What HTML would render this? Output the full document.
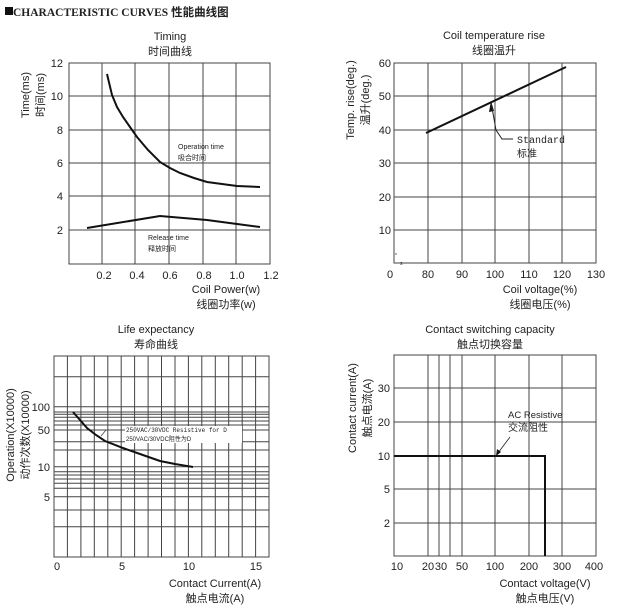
<!DOCTYPE html>
<html><head><meta charset="utf-8"><style>
body{margin:0;background:#fff}
svg text{font-family:"Liberation Sans","Noto Sans CJK SC",sans-serif;fill:#222}
.g line,.g rect{stroke:#444;stroke-width:1;fill:none}
.s{font-family:"Liberation Serif","Noto Sans CJK SC",serif;font-size:11px}
</style></head><body>
<svg width="621" height="608" xmlns="http://www.w3.org/2000/svg">
<rect x="5" y="7" width="8" height="8" fill="#111"/>
<text x="13" y="16" style="font-family:'Liberation Serif','Noto Sans CJK SC',serif;font-weight:bold;font-size:11.5px">CHARACTERISTIC CURVES 性能曲线图</text>

<!-- Chart 1 -->
<g class="g">
<rect x="69" y="63" width="201" height="201"/>
<line x1="102" y1="63" x2="102" y2="264"/><line x1="135" y1="63" x2="135" y2="264"/><line x1="169" y1="63" x2="169" y2="264"/><line x1="203" y1="63" x2="203" y2="264"/><line x1="236" y1="63" x2="236" y2="264"/>
<line x1="69" y1="96" x2="270" y2="96"/><line x1="69" y1="130" x2="270" y2="130"/><line x1="69" y1="163" x2="270" y2="163"/><line x1="69" y1="196" x2="270" y2="196"/><line x1="69" y1="230" x2="270" y2="230"/>
</g>
<polyline points="107,74 112,95 117,107 123,117 130,127 137,137 148,150 160,162 170,168 180,173 194,178 207,182 222,184 237,186 260,187" fill="none" stroke="#111" stroke-width="2"/>
<polyline points="87,228 160,216 207,220 237,224 260,227" fill="none" stroke="#111" stroke-width="2"/>
<text x="170" y="40" font-size="11" text-anchor="middle">Timing</text>
<text x="170" y="55" font-size="11" text-anchor="middle">时间曲线</text>
<g font-size="11" text-anchor="end" class="s"><text x="63" y="67">12</text><text x="63" y="100">10</text><text x="63" y="134">8</text><text x="63" y="167">6</text><text x="63" y="200">4</text><text x="63" y="234">2</text></g>
<g class="s" text-anchor="middle"><text x="104" y="279">0.2</text><text x="137" y="279">0.4</text><text x="170" y="279">0.6</text><text x="204" y="279">0.8</text><text x="237" y="279">1.0</text><text x="271" y="279">1.2</text></g>
<text x="178" y="149" font-size="7">Operation time</text><text x="178" y="160" font-size="7">吸合时间</text>
<text x="148" y="240" font-size="7">Release time</text><text x="148" y="251" font-size="7">释放时间</text>
<text x="226" y="293" font-size="11" text-anchor="middle">Coil Power(w)</text>
<text x="226" y="308" font-size="11" text-anchor="middle">线圈功率(w)</text>
<text transform="translate(29,95) rotate(-90)" font-size="11" text-anchor="middle">Time(ms)</text>
<text transform="translate(44,95) rotate(-90)" font-size="11" text-anchor="middle">时间(ms)</text>

<!-- Chart 2 -->
<g class="g">
<rect x="394" y="63" width="202" height="200"/>
<line x1="428" y1="63" x2="428" y2="263"/><line x1="462" y1="63" x2="462" y2="263"/><line x1="495" y1="63" x2="495" y2="263"/><line x1="529" y1="63" x2="529" y2="263"/><line x1="562" y1="63" x2="562" y2="263"/>
<line x1="394" y1="96" x2="596" y2="96"/><line x1="394" y1="130" x2="596" y2="130"/><line x1="394" y1="163" x2="596" y2="163"/><line x1="394" y1="197" x2="596" y2="197"/><line x1="394" y1="230" x2="596" y2="230"/>
</g>
<line x1="426" y1="133" x2="566" y2="67" stroke="#111" stroke-width="2"/>
<polygon points="491,101 489,112 494,111" fill="#111"/>
<polyline points="491,102 496,130 502,139 513,139" fill="none" stroke="#222" stroke-width="1"/>
<text x="517" y="143" font-size="10" style="font-family:'Liberation Mono',monospace">Standard</text>
<text x="517" y="157" font-size="10">标准</text>
<text x="395" y="257" font-size="5">*</text><text x="400" y="265" font-size="5">s</text>
<text x="494" y="39" font-size="11" text-anchor="middle">Coil temperature rise</text>
<text x="494" y="54" font-size="11" text-anchor="middle">线圈温升</text>
<g class="s" text-anchor="end"><text x="391" y="67">60</text><text x="391" y="100">50</text><text x="391" y="134">40</text><text x="391" y="167">30</text><text x="391" y="201">20</text><text x="391" y="234">10</text></g>
<g class="s" text-anchor="middle"><text x="390" y="278">0</text><text x="428" y="278">80</text><text x="462" y="278">90</text><text x="495" y="278">100</text><text x="529" y="278">110</text><text x="562" y="278">120</text><text x="596" y="278">130</text></g>
<text x="540" y="293" font-size="11" text-anchor="middle">Coil voltage(%)</text>
<text x="540" y="308" font-size="11" text-anchor="middle">线圈电压(%)</text>
<text transform="translate(354,100) rotate(-90)" font-size="11" text-anchor="middle">Temp. rise(deg.)</text>
<text transform="translate(369,100) rotate(-90)" font-size="11" text-anchor="middle">温升(deg.)</text>

<!-- Chart 3 -->
<g class="g">
<rect x="54" y="356" width="215" height="201"/>
<line x1="67.4" y1="356" x2="67.4" y2="557"/><line x1="80.9" y1="356" x2="80.9" y2="557"/><line x1="94.3" y1="356" x2="94.3" y2="557"/><line x1="107.8" y1="356" x2="107.8" y2="557"/><line x1="121.2" y1="356" x2="121.2" y2="557"/><line x1="134.6" y1="356" x2="134.6" y2="557"/><line x1="148.1" y1="356" x2="148.1" y2="557"/><line x1="161.5" y1="356" x2="161.5" y2="557"/><line x1="175" y1="356" x2="175" y2="557"/><line x1="188.4" y1="356" x2="188.4" y2="557"/><line x1="201.8" y1="356" x2="201.8" y2="557"/><line x1="215.3" y1="356" x2="215.3" y2="557"/><line x1="228.7" y1="356" x2="228.7" y2="557"/><line x1="242.2" y1="356" x2="242.2" y2="557"/><line x1="255.6" y1="356" x2="255.6" y2="557"/>
<line x1="54" y1="376.7" x2="269" y2="376.7"/><line x1="54" y1="406.7" x2="269" y2="406.7"/><line x1="54" y1="412" x2="269" y2="412"/><line x1="54" y1="414.3" x2="269" y2="414.3"/><line x1="54" y1="417.3" x2="269" y2="417.3"/><line x1="54" y1="421" x2="269" y2="421"/><line x1="54" y1="425" x2="269" y2="425"/><line x1="54" y1="430" x2="269" y2="430"/><line x1="54" y1="441.7" x2="269" y2="441.7"/><line x1="54" y1="450" x2="269" y2="450"/><line x1="54" y1="466.7" x2="269" y2="466.7"/><line x1="54" y1="471.7" x2="269" y2="471.7"/><line x1="54" y1="475" x2="269" y2="475"/><line x1="54" y1="479" x2="269" y2="479"/><line x1="54" y1="483.3" x2="269" y2="483.3"/><line x1="54" y1="488.3" x2="269" y2="488.3"/><line x1="54" y1="496.7" x2="269" y2="496.7"/><line x1="54" y1="510" x2="269" y2="510"/><line x1="54" y1="526.7" x2="269" y2="526.7"/>
</g>
<rect x="125" y="426" width="117" height="17" fill="#fff"/>
<polyline points="73,412 80,420 87,428 96,435 105,441 123,448 140,454 160,461 175,464 193,467" fill="none" stroke="#111" stroke-width="2"/>
<polyline points="101,436 106,430 124,430" fill="none" stroke="#444" stroke-width="0.8"/>
<text x="126" y="432" font-size="6" style="font-family:'Liberation Mono',monospace">250VAC/30VDC Resistive for D</text>
<text x="126" y="441" font-size="6">250VAC/30VDC阻性为D</text>
<text x="156" y="333" font-size="11" text-anchor="middle">Life expectancy</text>
<text x="156" y="348" font-size="11" text-anchor="middle">寿命曲线</text>
<g class="s" text-anchor="end"><text x="50" y="411">100</text><text x="50" y="434">50</text><text x="50" y="471">10</text><text x="50" y="501">5</text></g>
<g class="s" text-anchor="middle"><text x="57" y="570">0</text><text x="122" y="570">5</text><text x="189" y="570">10</text><text x="256" y="570">15</text></g>
<text x="215" y="587" font-size="11" text-anchor="middle">Contact Current(A)</text>
<text x="215" y="602" font-size="11" text-anchor="middle">触点电流(A)</text>
<text transform="translate(14,435) rotate(-90)" font-size="11" text-anchor="middle">Operation(X10000)</text>
<text transform="translate(29,435) rotate(-90)" font-size="11" text-anchor="middle">动作次数(X10000)</text>

<!-- Chart 4 -->
<g class="g">
<rect x="394" y="355" width="202" height="201"/>
<line x1="428" y1="355" x2="428" y2="556"/><line x1="439" y1="355" x2="439" y2="556"/><line x1="450" y1="355" x2="450" y2="556"/><line x1="462" y1="355" x2="462" y2="556"/><line x1="495" y1="355" x2="495" y2="556"/><line x1="529" y1="355" x2="529" y2="556"/><line x1="562" y1="355" x2="562" y2="556"/>
<line x1="394" y1="388" x2="596" y2="388"/><line x1="394" y1="422" x2="596" y2="422"/><line x1="394" y1="489" x2="596" y2="489"/><line x1="394" y1="523" x2="596" y2="523"/>
</g>
<polyline points="394,456 545,456 545,556" fill="none" stroke="#111" stroke-width="2"/>
<line x1="510" y1="437" x2="498" y2="453" stroke="#222" stroke-width="0.8"/>
<polygon points="496,456 497,449 501,452" fill="#111"/>
<text x="508" y="418" font-size="9.5">AC Resistive</text>
<text x="508" y="431" font-size="10">交流阻性</text>
<text x="490" y="333" font-size="11" text-anchor="middle">Contact switching capacity</text>
<text x="490" y="348" font-size="11" text-anchor="middle">触点切换容量</text>
<g class="s" text-anchor="end"><text x="390" y="392">30</text><text x="390" y="426">20</text><text x="390" y="460">10</text><text x="390" y="493">5</text><text x="390" y="527">2</text></g>
<g class="s" text-anchor="middle"><text x="397" y="570">10</text><text x="428" y="570">20</text><text x="441" y="570">30</text><text x="462" y="570">50</text><text x="495" y="570">100</text><text x="529" y="570">200</text><text x="562" y="570">300</text><text x="594" y="570">400</text></g>
<text x="545" y="587" font-size="11" text-anchor="middle">Contact voltage(V)</text>
<text x="545" y="602" font-size="11" text-anchor="middle">触点电压(V)</text>
<text transform="translate(356,408) rotate(-90)" font-size="11" text-anchor="middle">Contact current(A)</text>
<text transform="translate(371,408) rotate(-90)" font-size="11" text-anchor="middle">触点电流(A)</text>
</svg>
</body></html>
